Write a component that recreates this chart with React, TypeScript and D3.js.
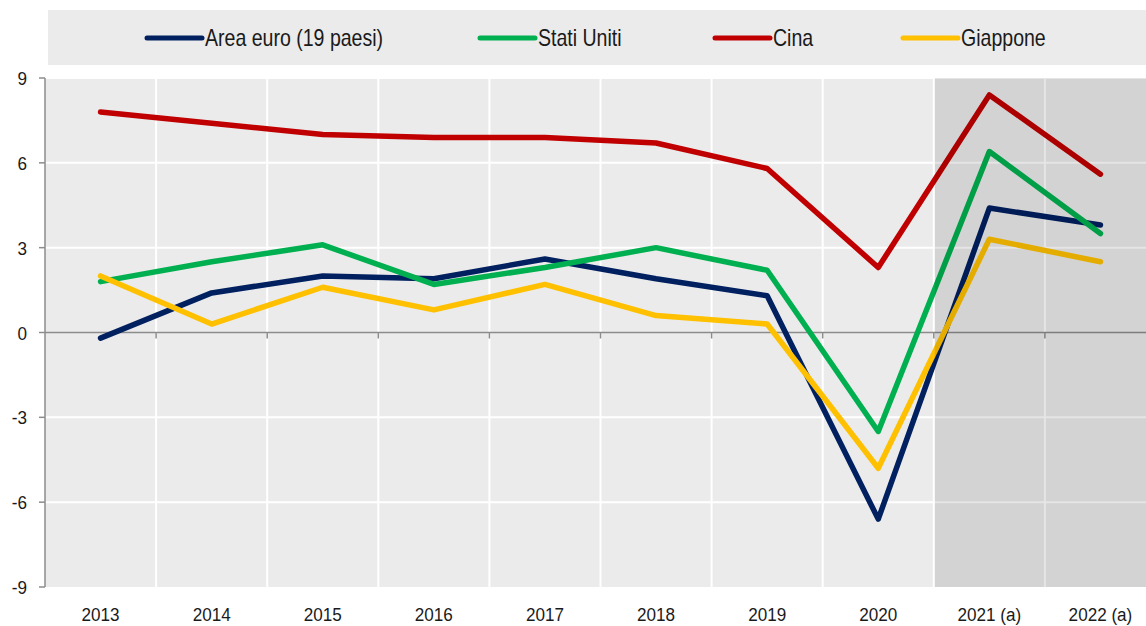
import React from "react";
import * as d3 from "d3";

const years = ["2013", "2014", "2015", "2016", "2017", "2018", "2019", "2020", "2021 (a)", "2022 (a)"];
const areaEuro = [-0.2, 1.4, 2.0, 1.9, 2.6, 1.9, 1.3, -6.6, 4.4, 3.8];
const statiUniti = [1.8, 2.5, 3.1, 1.7, 2.3, 3.0, 2.2, -3.5, 6.4, 3.5];
const cina = [7.8, 7.4, 7.0, 6.9, 6.9, 6.7, 5.8, 2.3, 8.4, 5.6];
const giappone = [2.0, 0.3, 1.6, 0.8, 1.7, 0.6, 0.3, -4.8, 3.3, 2.5];
const yTicks = [-9, -6, -3, 0, 3, 6, 9];
const seriesNames = ["Area euro (19 paesi)", "Stati Uniti", "Cina", "Giappone"];
const seriesColors = ["#002060", "#00b050", "#c00000", "#ffc000"];
const forecastYears = ["2021 (a)", "2022 (a)"];

const W = 1146;
const H = 626;
const left = 45;
const right = 1156;
const top = 78;
const bottom = 587;
const font = "'Liberation Sans Narrow', 'Liberation Sans', Arial, sans-serif";

function NText(props: { x: number; y: number; size: number; sx: number; anchor?: string; children: React.ReactNode }) {
  return (
    <text
      transform={`translate(${props.x},${props.y}) scale(${props.sx},1)`}
      fontSize={props.size}
      textAnchor={props.anchor || "start"}
      fill="#1a1a1a"
    >
      {props.children}
    </text>
  );
}

export default function App() {
  const x = d3.scaleBand<string>().domain(years).range([left, right]);
  const y = d3.scaleLinear().domain([-9, 9]).range([bottom, top]);
  const series = [areaEuro, statiUniti, cina, giappone];
  const line = d3
    .line<number>()
    .x((_, i) => (x(years[i]) as number) + x.bandwidth() / 2)
    .y((d) => y(d));
  const shadeX = x(forecastYears[0]) as number;
  const legendX = [147, 480, 715, 903];

  return (
    <svg width={W} height={H} style={{ position: "absolute", left: 0, top: 0 }} fontFamily={font}>
      <rect x={0} y={0} width={W} height={H} fill="#ffffff" />
      {/* legend */}
      <rect x={48} y={10} width={W - 48} height={55} fill="#ebebeb" />
      {seriesNames.map((n, i) => (
        <g key={n}>
          <line x1={legendX[i]} x2={legendX[i] + 55} y1={38} y2={38} stroke={seriesColors[i]} strokeWidth={5} strokeLinecap="round" />
          <NText x={legendX[i] + 58} y={46} size={23} sx={0.85}>{n}</NText>
        </g>
      ))}
      {/* plot background */}
      <rect x={left} y={top} width={right - left} height={bottom - top} fill="#ebebeb" />
      {/* horizontal gridlines */}
      {yTicks.filter((t) => t !== 0 && t !== -9).map((t) => (
        <line key={t} x1={left} x2={right} y1={y(t)} y2={y(t)} stroke="#ffffff" strokeWidth={2} />
      ))}
      {/* vertical gridlines */}
      {years.slice(1).map((yr) => (
        <line key={yr} x1={x(yr)} x2={x(yr)} y1={top} y2={bottom} stroke="#ffffff" strokeWidth={2} />
      ))}
      {/* zero line */}
      <line x1={left} x2={right} y1={y(0)} y2={y(0)} stroke="#8c8c8c" strokeWidth={1.5} />
      {years.slice(1).map((yr) => (
        <line key={"t" + yr} x1={x(yr)} x2={x(yr)} y1={y(0)} y2={y(0) + 6} stroke="#8c8c8c" strokeWidth={1.5} />
      ))}
      {/* series */}
      {series.map((s, i) => (
        <path key={i} d={line(s) as string} fill="none" stroke={seriesColors[i]} strokeWidth={5.5} strokeLinecap="round" strokeLinejoin="round" />
      ))}
      {/* forecast shading */}
      <rect x={shadeX + 1} y={top} width={right - shadeX - 1} height={bottom - top} fill="#000000" fillOpacity={0.1} />
      {/* y axis */}
      <line x1={left} x2={left} y1={top} y2={bottom} stroke="#8c8c8c" strokeWidth={1.5} />
      {yTicks.map((t) => (
        <g key={"y" + t}>
          <line x1={left - 6} x2={left} y1={y(t)} y2={y(t)} stroke="#8c8c8c" strokeWidth={1.5} />
          <NText x={left - 18} y={y(t) + 7} size={19} sx={0.9} anchor="end">{t}</NText>
        </g>
      ))}
      {/* x labels */}
      {years.map((yr) => (
        <NText key={"x" + yr} x={(x(yr) as number) + x.bandwidth() / 2} y={621} size={19} sx={0.9} anchor="middle">{yr}</NText>
      ))}
    </svg>
  );
}
